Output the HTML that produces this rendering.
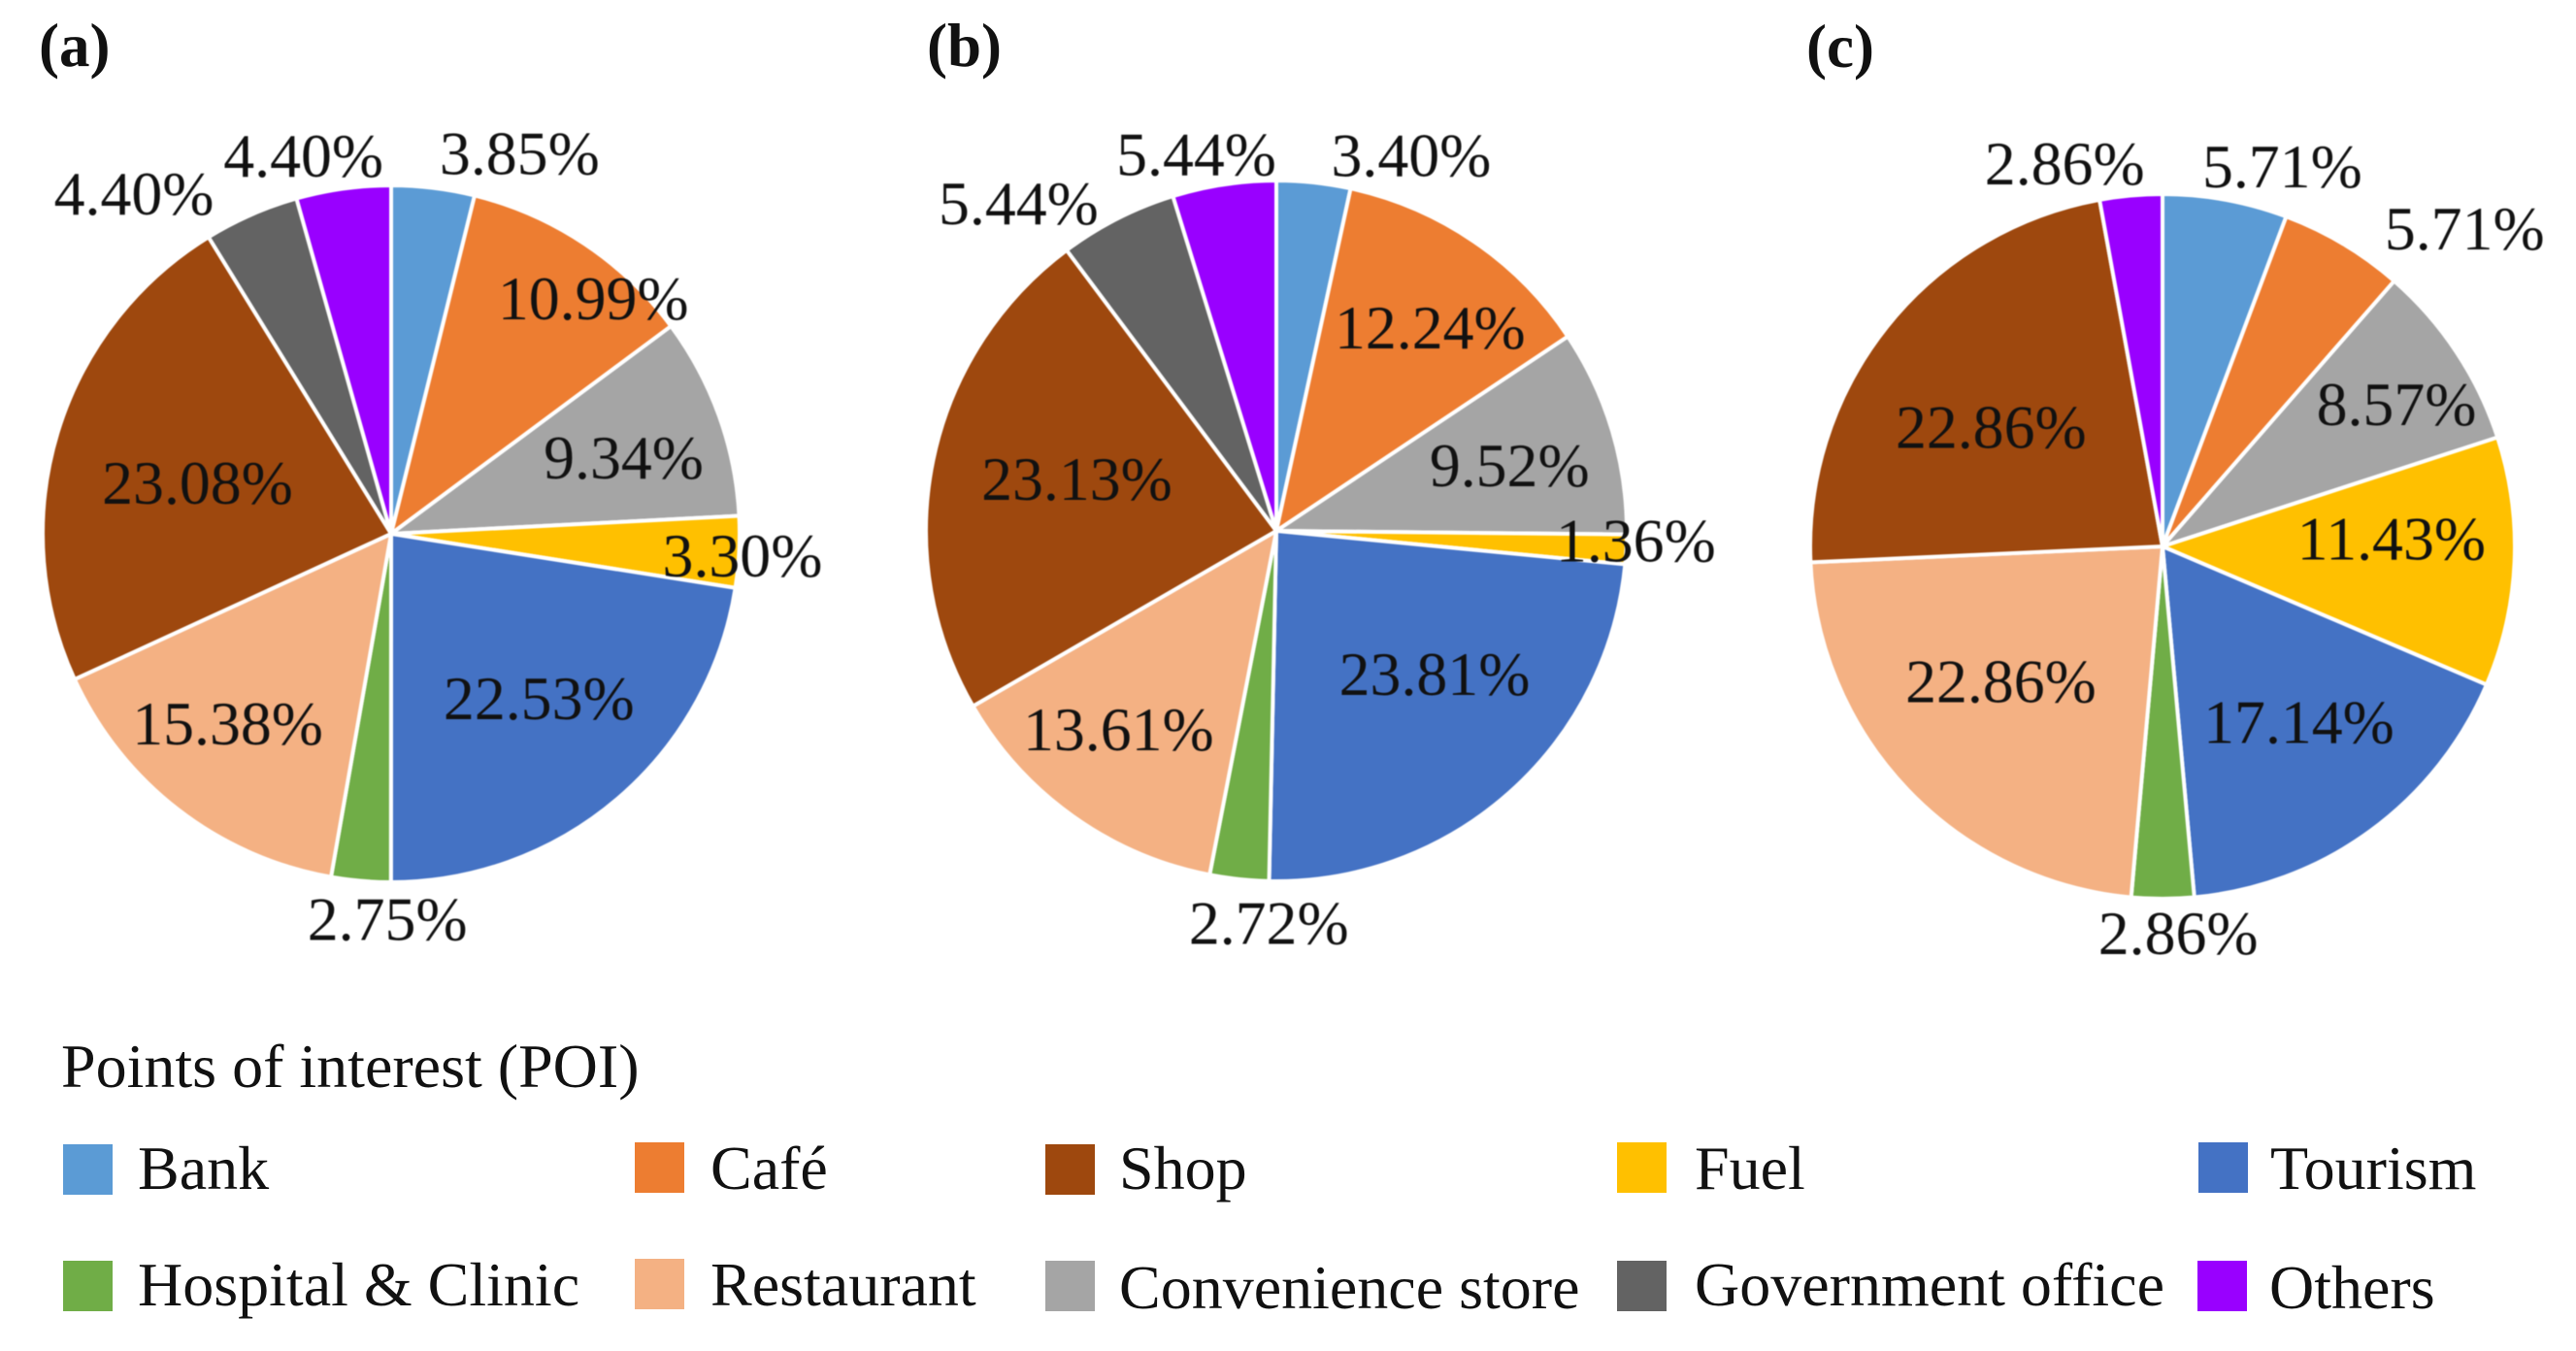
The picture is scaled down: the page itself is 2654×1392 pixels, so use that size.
<!DOCTYPE html>
<html lang="en">
<head>
<meta charset="utf-8">
<title>Points of interest pie charts</title>
<style>
  html, body { margin: 0; padding: 0; background: #ffffff; }
  svg { display: block; }
  text { font-family: "Liberation Serif", serif; fill: #111111; }
  .panel-title { font-size: 63px; font-weight: bold; }
  .value-label { font-size: 63.8px; text-anchor: middle; }
  .legend-text { font-size: 64px; }
</style>
</head>
<body>
<svg id="chart" xmlns="http://www.w3.org/2000/svg" width="2654" height="1392" viewBox="0 0 2654 1392">
  <g id="slices" style="filter:blur(0.6px)"></g>
  <text class="panel-title" x="40" y="68">(a)</text>
  <text class="panel-title" x="955" y="68">(b)</text>
  <text class="panel-title" x="1861" y="69">(c)</text>

  <g>
    <text class="legend-text" x="63" y="1120">Points of interest (POI)</text>

    <g>
      <rect x="65" y="1179" width="51" height="52" fill="#5B9BD5"/>
      <text class="legend-text" x="142" y="1225">Bank</text>
    </g>
    <g>
      <rect x="654" y="1177" width="51" height="52" fill="#ED7D31"/>
      <text class="legend-text" x="732" y="1225">Café</text>
    </g>
    <g>
      <rect x="1077" y="1179" width="51" height="52" fill="#9E480E"/>
      <text class="legend-text" x="1153" y="1225">Shop</text>
    </g>
    <g>
      <rect x="1666" y="1177" width="51" height="52" fill="#FFC000"/>
      <text class="legend-text" x="1746" y="1225">Fuel</text>
    </g>
    <g>
      <rect x="2265" y="1177" width="51" height="52" fill="#4472C4"/>
      <text class="legend-text" x="2339" y="1225">Tourism</text>
    </g>

    <g>
      <rect x="65" y="1299" width="51" height="52" fill="#70AD47"/>
      <text class="legend-text" x="142" y="1345">Hospital &amp; Clinic</text>
    </g>
    <g>
      <rect x="654" y="1297" width="51" height="52" fill="#F4B183"/>
      <text class="legend-text" x="732" y="1345">Restaurant</text>
    </g>
    <g>
      <rect x="1077" y="1299" width="51" height="52" fill="#A5A5A5"/>
      <text class="legend-text" x="1153" y="1348">Convenience store</text>
    </g>
    <g>
      <rect x="1666" y="1299" width="51" height="52" fill="#636363"/>
      <text class="legend-text" x="1746" y="1345">Government office</text>
    </g>
    <g>
      <rect x="2264" y="1299" width="51" height="52" fill="#9900FF"/>
      <text class="legend-text" x="2338" y="1348">Others</text>
    </g>
  </g>
</svg>

<script>
// Data: slice order is clockwise from 12 o'clock.
const categories = ['bank', 'cafe', 'convenience-store', 'fuel', 'tourism', 'hospital-clinic', 'restaurant', 'shop', 'government-office', 'others'];
const valuesA = [3.85, 10.99, 9.34, 3.30, 22.53, 2.75, 15.38, 23.08, 4.40, 4.40];
const valuesB = [3.40, 12.24, 9.52, 1.36, 23.81, 2.72, 13.61, 23.13, 5.44, 5.44];
const valuesC = [5.71, 5.71, 8.57, 11.43, 17.14, 2.86, 22.86, 22.86, 0, 2.86];

// Appearance and layout, kept apart from the data.
const sliceColors = ['#5B9BD5', '#ED7D31', '#A5A5A5', '#FFC000', '#4472C4', '#70AD47', '#F4B183', '#9E480E', '#636363', '#9900FF'];
const nudgesA = [[102,-121],[69,-12],[3,28],[111,31],[-11,0],[18,168],[-15,18],[41,42],[-164,-99],[-56,-119]];
const nudgesB = [[112,-114],[16,21],[-2,26],[118,18],[-5,-20],[19,174],[-16,20],[42,19],[-151,-91],[-50,-116]];
const nudgesC = [[78,-120],[181,-88],[29,15],[-18,2],[-9,-3],[16,166],[17,-15],[22,57],[0,0],[-78,-120]];

const SVG_NS = 'http://www.w3.org/2000/svg';
const host = document.getElementById('slices');

// Axis function: percent of the circle to an angle in radians, clockwise from the top.
function angleOf(percent) {
  return Math.min(percent, 100) * 3.6 * Math.PI / 180;
}

function pointAt(cx, cy, radius, percent) {
  const a = angleOf(percent);
  return [cx + radius * Math.sin(a), cy - radius * Math.cos(a)];
}

function slicePath(cx, cy, radius, from, to) {
  const p0 = pointAt(cx, cy, radius, from);
  const p1 = pointAt(cx, cy, radius, to);
  const large = angleOf(to) - angleOf(from) > Math.PI ? 1 : 0;
  return 'M' + cx + ' ' + cy + 'L' + p0[0] + ' ' + p0[1] + 'A' + radius + ' ' + radius + ' 0 ' + large + ' 1 ' + p1[0] + ' ' + p1[1] + 'Z';
}

function drawPie(panel, cx, cy, radius, values, nudges) {
  const group = document.createElementNS(SVG_NS, 'g');
  
  
  host.appendChild(group);

  let running = 0;
  const labels = [];
  values.forEach(function (value, i) {
    const from = running;
    const to = running + value;
    running = to;
    if (value <= 0) return;

    const slice = document.createElementNS(SVG_NS, 'path');
    slice.setAttribute('d', slicePath(cx, cy, radius, from, to));
    slice.setAttribute('fill', sliceColors[i]);
    slice.setAttribute('stroke', '#ffffff');
    slice.setAttribute('stroke-width', '4');
    slice.setAttribute('stroke-linejoin', 'round');
    
    
    group.appendChild(slice);

    const anchor = pointAt(cx, cy, radius * 0.7, (from + to) / 2);
    labels.push({
      x: anchor[0] + nudges[i][0],
      y: anchor[1] + nudges[i][1],
      text: value.toFixed(2) + '%',
      category: categories[i]
    });
  });

  labels.forEach(function (item) {
    const label = document.createElementNS(SVG_NS, 'text');
    label.setAttribute('class', 'value-label');
    label.setAttribute('x', item.x);
    label.setAttribute('y', item.y);
    
    
    label.textContent = item.text;
    group.appendChild(label);
  });
}

drawPie('a', 403, 550, 359, valuesA, nudgesA);
drawPie('b', 1315, 547, 361, valuesB, nudgesB);
drawPie('c', 2228, 563, 363, valuesC, nudgesC);
</script>
</body>
</html>
